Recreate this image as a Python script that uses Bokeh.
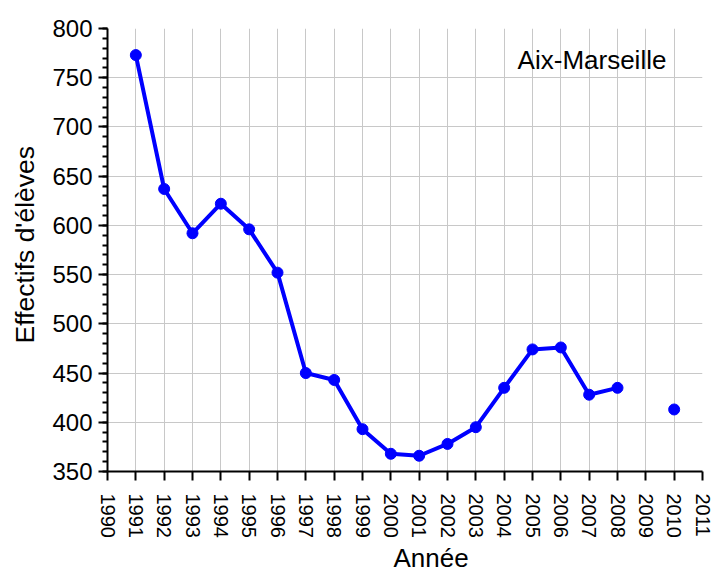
import math
from bokeh.plotting import figure
from bokeh.models import Label, FixedTicker, Range1d, ColumnDataSource, Title
from bokeh.embed import file_html
from bokeh.resources import INLINE

years = [1991, 1992, 1993, 1994, 1995, 1996, 1997, 1998, 1999, 2000,
         2001, 2002, 2003, 2004, 2005, 2006, 2007, 2008, 2009, 2010]
effectifs = [773, 637, 592, 622, 596, 552, 450, 443, 393, 368,
             366, 378, 395, 435, 474, 476, 428, 435, float("nan"), 413]
x_ticks = list(range(1990, 2012))
y_ticks = [350, 400, 450, 500, 550, 600, 650, 700, 750, 800]
region = "Aix-Marseille"
x_title = "Année"
y_title = "Effectifs d'élèves"

FONT = "Liberation Sans"

p = figure(width=713, height=572, output_backend="svg", toolbar_location=None,
           x_range=Range1d(1990, 2011), y_range=Range1d(350, 800),
           min_border_left=107, min_border_right=11, min_border_top=28, min_border_bottom=101)
p.outline_line_color = None

src = ColumnDataSource(dict(x=years, y=effectifs))
p.line("x", "y", source=src, line_color="#0000ff", line_width=4)
p.scatter("x", "y", source=src, size=11, fill_color="#0000ff", line_color="#0000ff")

p.xaxis.ticker = FixedTicker(ticks=x_ticks)
p.yaxis.ticker = FixedTicker(ticks=y_ticks, minor_ticks=list(range(350, 801, 10)))
p.xaxis.major_label_orientation = -math.pi / 2
p.xaxis.minor_tick_line_color = None

for ax in (p.xaxis[0], p.yaxis[0]):
    ax.axis_line_width = 2
    ax.axis_line_color = "black"
    ax.major_tick_line_width = 2
    ax.major_tick_line_color = "black"
    ax.major_tick_out = 9
    ax.major_tick_in = 0
    ax.major_label_text_font = FONT
    ax.major_label_text_color = "black"

p.yaxis.minor_tick_line_width = 2
p.yaxis.minor_tick_line_color = "black"
p.yaxis.minor_tick_out = 5
p.yaxis.minor_tick_in = 0
p.yaxis.major_label_text_font_size = "24px"
p.yaxis.major_label_standoff = 6
p.xaxis.major_label_text_font_size = "20px"
p.xaxis.major_label_standoff = 13

p.add_layout(Title(text=x_title, align="left", offset=286, standoff=0,
                   text_font=FONT, text_font_size="26px", text_font_style="normal",
                   text_color="black"), "below")
p.add_layout(Title(text=y_title, align="left", offset=128, standoff=16,
                   vertical_align="top",
                   text_font=FONT, text_font_size="26.5px", text_font_style="normal",
                   text_color="black"), "left")

p.xgrid.ticker = FixedTicker(ticks=x_ticks[1:-1])
p.ygrid.ticker = FixedTicker(ticks=y_ticks[1:-1])
p.grid.grid_line_color = "#c8c8c8"
p.grid.grid_line_width = 1

p.add_layout(Label(x=2007.1, y=768, text=region, text_font=FONT, text_font_size="26px",
                   text_align="center", text_baseline="middle", text_color="black"))

open("out.html", "w").write(file_html(p, INLINE))
